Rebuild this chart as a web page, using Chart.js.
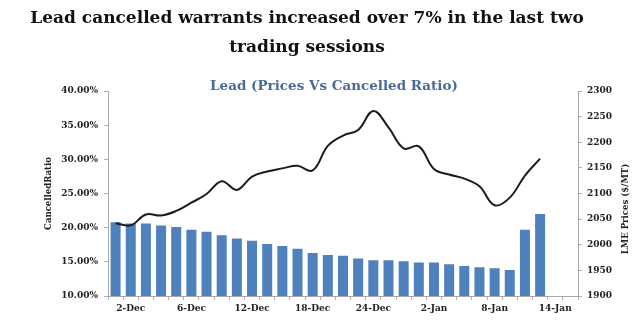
<!DOCTYPE html>
<html><head><meta charset="utf-8">
<script src="https://cdn.jsdelivr.net/npm/chart.js@4.4.0/dist/chart.umd.min.js"></script>
<style>
html,body{margin:0;padding:0;background:#fff;width:639px;height:331px;overflow:hidden;}
#wrap{position:relative;width:639px;height:331px;}
#title{position:absolute;left:0;top:3px;width:614px;text-align:center;font-family:"DejaVu Serif";font-weight:bold;font-size:17px;line-height:29px;color:#111;}
#sub{position:absolute;left:184px;top:75px;width:300px;text-align:center;font-family:"DejaVu Serif";font-weight:bold;font-size:13.5px;line-height:20px;color:#4a6a9a;}
#rtitle{position:absolute;left:565px;top:202px;width:130px;height:14px;line-height:14px;text-align:center;font-family:"DejaVu Serif Condensed";font-weight:bold;font-size:9.5px;color:#222;transform:rotate(-90deg);transform-origin:65px 7px;margin-left:-5px;}
canvas{position:absolute;left:0;top:0;}
</style></head>
<body><div id="wrap">
<canvas id="c" width="639" height="331"></canvas>
<div id="title">Lead cancelled warrants increased over 7% in the last two<br>trading sessions</div>
<div id="sub">Lead (Prices Vs Cancelled Ratio)</div>
<div id="rtitle">LME Prices ($/MT)</div>
</div>
<script>
const dates = ['29-Nov','2-Dec','3-Dec','4-Dec','5-Dec','6-Dec','9-Dec','10-Dec','11-Dec','12-Dec','13-Dec','16-Dec','17-Dec','18-Dec','19-Dec','20-Dec','23-Dec','24-Dec','27-Dec','30-Dec','31-Dec','2-Jan','3-Jan','6-Jan','7-Jan','8-Jan','9-Jan','10-Jan','13-Jan','14-Jan','15-Jan'];
const shownDates = ['2-Dec','6-Dec','12-Dec','18-Dec','24-Dec','2-Jan','8-Jan','14-Jan'];
const cancelledRatio = [20.8,20.6,20.6,20.3,20.1,19.7,19.4,18.9,18.4,18.1,17.6,17.3,16.9,16.3,16.0,15.9,15.5,15.25,15.25,15.1,14.9,14.9,14.65,14.4,14.2,14.05,13.8,19.7,22.0];
const lmePrice = [2042,2038,2059,2057,2066,2082,2099,2124,2107,2133,2143,2149,2154,2145,2193,2213,2224,2261,2229,2188,2192,2148,2137,2129,2114,2077,2092,2135,2168];
const leftTitle = 'CancelledRatio';

const tickFont = {family:'DejaVu Serif', weight:'bold', size:9};
new Chart(document.getElementById('c'), {
  type:'bar',
  data:{
    labels:dates,
    datasets:[
      {type:'line', data:lmePrice, yAxisID:'y1', borderColor:'#1c1c1c', borderWidth:2, pointRadius:0, tension:0.4, order:0},
      {type:'bar', data:cancelledRatio, yAxisID:'y', backgroundColor:'#4F81BD', barPercentage:0.66, categoryPercentage:1, order:1}
    ]
  },
  options:{
    responsive:false, animation:false,
    layout:{padding:{top:91,left:0,right:0,bottom:0}},
    plugins:{legend:{display:false}, tooltip:{enabled:false}},
    scales:{
      x:{
        offset:true,
        grid:{offset:true, drawOnChartArea:false, drawTicks:true, tickLength:4, color:'#b0b0b0'},
        border:{color:'#a8a8a8'},
        ticks:{autoSkip:false, maxRotation:0, minRotation:0, padding:3, font:tickFont, color:'#222',
          callback:function(v,i){ const l=dates[i]; return shownDates.includes(l)?l:''; }},
        afterFit:function(s){ s.height=35; }
      },
      y:{
        position:'left', min:10, max:40,
        grid:{drawOnChartArea:false, tickLength:4, color:'#b0b0b0'},
        border:{color:'#a8a8a8'},
        ticks:{stepSize:5, padding:6, font:tickFont, color:'#222', callback:v=>v.toFixed(2)+'%'},
        title:{display:true, text:leftTitle, font:{family:'DejaVu Serif Condensed', weight:'bold', size:9.5}, color:'#222', padding:{top:43,bottom:0}},
        afterFit:function(s){ s.width=108; }
      },
      y1:{
        position:'right', min:1900, max:2300,
        grid:{drawOnChartArea:false, tickLength:4, color:'#b0b0b0'},
        border:{color:'#a8a8a8'},
        ticks:{stepSize:50, padding:5, font:tickFont, color:'#222', callback:v=>String(v)},
        afterFit:function(s){ s.width=61; }
      }
    }
  }
});
</script>
</body></html>
